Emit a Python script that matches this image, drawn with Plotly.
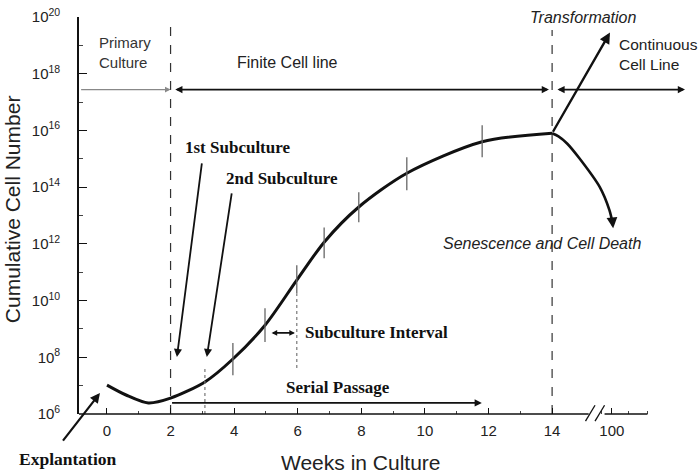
import plotly.graph_objects as go

# ---------------- data ----------------
weeks = [0, 0.6, 1.3, 2, 3.08, 3.96, 4.97, 5.97, 6.83, 7.92, 9.43, 11.8, 14]
log_cells = [7.02, 6.67, 6.39, 6.56, 7.13, 7.94, 9.13, 10.72, 12.06, 13.3, 14.49, 15.6, 15.9]

sen_weeks = [14, 14.2, 14.47, 14.87, 15.5, 15.8, 15.9]
sen_log = [15.9, 15.79, 15.54, 15.0, 14.0, 13.2, 12.75]

trans_start = (14, 15.9)
trans_end = (15.82, 19.45)

mark_weeks = [3.96, 4.97, 5.97, 6.83, 7.92, 9.43, 11.8]
mark_lo = [7.37, 8.54, 10.26, 11.49, 12.76, 13.89, 15.05]
mark_hi = [8.5, 9.73, 11.25, 12.58, 13.82, 15.05, 16.18]

dotted_weeks = [3.08, 5.97]
dotted_lo = [6.0, 7.62]
dotted_hi = [7.65, 10.26]

phase_weeks = [2, 14]
phase_top = [19.72, 19.54]
phase_arrow_level = 17.44

xtick_vals = [0, 2, 4, 6, 8, 10, 12, 14, 15.88]
xtick_text = ["0", "2", "4", "6", "8", "10", "12", "14", "100"]
xminor_vals = [1, 3, 5, 7, 9, 11, 13, 15.55, 16.4, 17.0]
y_exps = [6, 8, 10, 12, 14, 16, 18, 20]
y_minor_exps = [7, 9, 11, 13, 15, 17, 19]

X0, X1 = -0.88, 18.62
AXIS_END = 17.0
BREAK_AT = 15.2

SANS = "Liberation Sans, Arial, sans-serif"
SERIF = "Liberation Serif, Times New Roman, serif"
INK = "#111111"
TXT = "#222222"


def p10(v):
    return 10.0 ** v


fig = go.Figure()

# main growth curve
fig.add_trace(go.Scatter(
    x=weeks, y=[p10(v) for v in log_cells], mode="lines",
    line=dict(color=INK, width=3, shape="spline", smoothing=0.8),
    hoverinfo="skip", showlegend=False))

# senescence branch
fig.add_trace(go.Scatter(
    x=sen_weeks, y=[p10(v) for v in sen_log], mode="lines",
    line=dict(color=INK, width=2.6, shape="spline", smoothing=0.8),
    hoverinfo="skip", showlegend=False))

# subculture marks (solid gray)
mx, my = [], []
for w, lo, hi in zip(mark_weeks, mark_lo, mark_hi):
    mx += [w, w, None]
    my += [p10(lo), p10(hi), None]
fig.add_trace(go.Scatter(x=mx, y=my, mode="lines",
                         line=dict(color="#666666", width=1.3),
                         hoverinfo="skip", showlegend=False))

# dotted marks
dx, dy = [], []
for w, lo, hi in zip(dotted_weeks, dotted_lo, dotted_hi):
    dx += [w, w, None]
    dy += [p10(lo), p10(hi), None]
fig.add_trace(go.Scatter(x=dx, y=dy, mode="lines",
                         line=dict(color="#777777", width=1.2, dash="dot"),
                         hoverinfo="skip", showlegend=False))

# phase boundaries (dashed)
px_, py_ = [], []
for w, top in zip(phase_weeks, phase_top):
    px_ += [w, w, None]
    py_ += [p10(6), p10(top), None]
fig.add_trace(go.Scatter(x=px_, y=py_, mode="lines",
                         line=dict(color="#333333", width=1.2, dash="dash"),
                         hoverinfo="skip", showlegend=False))

annotations = []


def arrow(x, y, ax, ay, color=INK, width=1.6, head=2, size=1.0, side="end"):
    annotations.append(dict(x=x, y=y, ax=ax, ay=ay, xref="x", yref="y",
                            axref="x", ayref="y", showarrow=True, text="",
                            arrowhead=head, arrowsize=size, arrowwidth=width,
                            arrowcolor=color, arrowside=side,
                            startarrowhead=head, startarrowsize=size,
                            standoff=0, startstandoff=0))


def label(x, y, text, font, size, color=INK, xanchor="center", italic=False,
          bold=False, xref="x", yref="y", angle=0, align="center"):
    t = text
    if bold:
        t = "<b>" + t + "</b>"
    if italic:
        t = "<i>" + t + "</i>"
    annotations.append(dict(x=x, y=y, xref=xref, yref=yref, text=t,
                            showarrow=False, xanchor=xanchor, yanchor="middle",
                            textangle=angle, align=align,
                            font=dict(family=font, size=size, color=color)))


# transformation arrow
arrow(trans_end[0], trans_end[1], trans_start[0], trans_start[1], width=2.4, head=2, size=0.9)
# senescence arrow head
arrow(sen_weeks[-1] + 0.02, 12.55, sen_weeks[-1], sen_log[-1], width=2.4, head=2, size=0.9)

# phase arrows
arrow(phase_weeks[0], phase_arrow_level, X0 + 0.02, phase_arrow_level,
      color="#888888", width=1.4, head=2, size=0.8)
arrow(phase_weeks[1] - 0.1, phase_arrow_level, phase_weeks[0] + 0.1, phase_arrow_level,
      width=1.8, head=2, size=0.8, side="end+start")
arrow(18.18, phase_arrow_level, phase_weeks[1] + 0.12, phase_arrow_level,
      width=1.8, head=2, size=0.8, side="end+start")

# subculture pointer arrows
arrow(2.20, 8.01, 2.99, 14.89, width=1.8, head=2, size=0.9)
arrow(3.14, 8.01, 3.93, 13.83, width=1.8, head=2, size=0.9)
# explantation arrow
arrow(-0.22, 6.74, -1.42, 5.01, width=2.2, head=2, size=0.9)
# subculture interval
arrow(5.91, 8.86, 5.13, 8.86, width=1.6, head=2, size=0.7, side="end+start")
# serial passage
arrow(11.79, 6.39, 2.0, 6.39, width=1.8, head=2, size=0.8)

# text labels
label(-0.31, 18.76, "Primary<br>Culture", SANS, 15, color="#333333", xanchor="left", align="left")
label(5.69, 18.38, "Finite Cell line", SANS, 16, color=TXT)
label(14.98, 20.0, "Transformation", SANS, 16, color=TXT, italic=True)
label(16.04, 18.69, "Continuous<br>Cell Line", SANS, 15.5, color=TXT, xanchor="left", align="left")
label(4.12, 15.41, "1st Subculture", SERIF, 17, bold=True)
label(5.5, 14.32, "2nd Subculture", SERIF, 17, bold=True)
label(13.68, 12.03, "Senescence and Cell Death", SANS, 16, color=TXT, italic=True)
label(6.16, 8.86, "Subculture Interval", SERIF, 17, bold=True, xanchor="left")
label(7.28, 6.92, "Serial Passage", SERIF, 17, bold=True)
label(-0.018, -0.113, "Explantation", SERIF, 17.5, bold=True, xref="paper", yref="paper")

# axis titles
label(0.455, -0.121, "Weeks in Culture", SANS, 21, color=TXT, xref="paper", yref="paper")
label(-0.108, 0.516, "Cumulative Cell Number", SANS, 21, color=TXT,
      xref="paper", yref="paper", angle=-90)

fig.update_layout(annotations=annotations)

# x axis line drawn with a break
shapes = [
    dict(type="line", xref="x", yref="paper", x0=X0, x1=BREAK_AT - 0.05, y0=0, y1=0,
         line=dict(color=INK, width=1.6)),
    dict(type="line", xref="x", yref="paper", x0=BREAK_AT + 0.45, x1=AXIS_END, y0=0, y1=0,
         line=dict(color=INK, width=1.6)),
    dict(type="line", xref="x", yref="paper", x0=BREAK_AT - 0.15, x1=BREAK_AT + 0.15,
         y0=-0.018, y1=0.022, line=dict(color=INK, width=1.3)),
    dict(type="line", xref="x", yref="paper", x0=BREAK_AT + 0.15, x1=BREAK_AT + 0.45,
         y0=-0.018, y1=0.022, line=dict(color=INK, width=1.3)),
]
fig.update_layout(shapes=shapes)

fig.update_layout(
    width=699, height=474,
    margin=dict(l=79, r=0, t=17, b=60, autoexpand=False),
    paper_bgcolor="white", plot_bgcolor="white",
    showlegend=False,
    xaxis=dict(
        range=[X0, X1], showgrid=False, zeroline=False, showline=False,
        tickmode="array", tickvals=xtick_vals, ticktext=xtick_text,
        ticks="inside", ticklen=6, tickcolor=INK, tickwidth=1.2,
        ticklabelstandoff=6,
        minor=dict(tickvals=xminor_vals, ticks="inside", ticklen=3, tickcolor="#444444"),
        tickfont=dict(family=SANS, size=15, color=TXT),
        automargin=False,
    ),
    yaxis=dict(
        type="log", range=[6, 20], showgrid=False, zeroline=False,
        showline=True, linecolor=INK, linewidth=1.6,
        tickmode="array", tickvals=[p10(e) for e in y_exps],
        ticktext=["10<sup>%d</sup>" % e for e in y_exps],
        ticks="inside", ticklen=8, tickcolor=INK, tickwidth=1.2,
        ticklabelstandoff=14,
        minor=dict(tickvals=[p10(e) for e in y_minor_exps], ticks="inside", ticklen=4,
                   tickcolor="#444444"),
        tickfont=dict(family=SANS, size=15, color=TXT),
        automargin=False,
    ),
)

fig.write_html("out.html")
